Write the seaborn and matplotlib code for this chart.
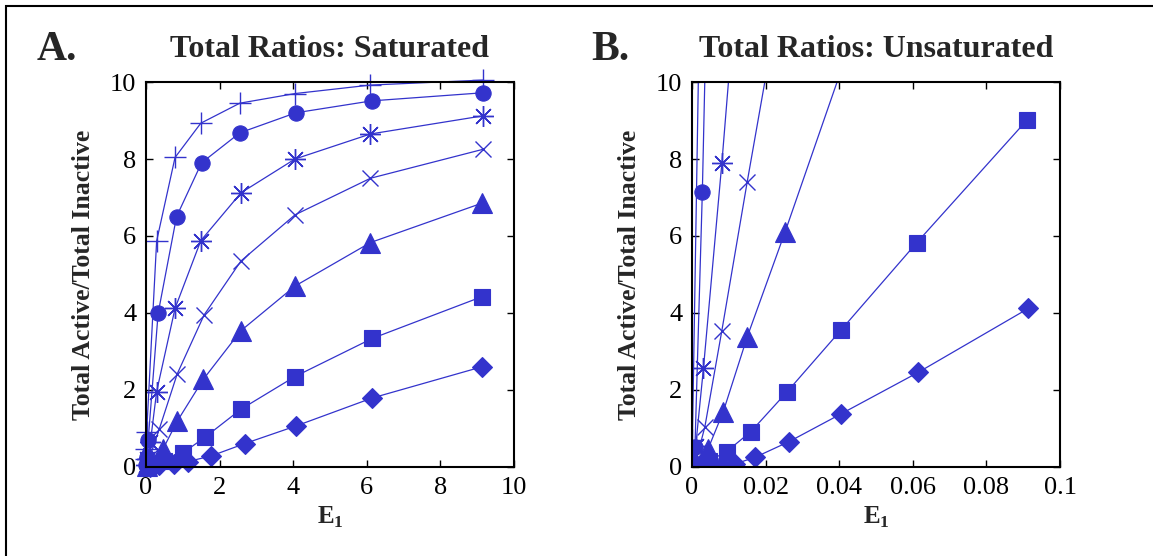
import matplotlib
matplotlib.use('Agg')
import matplotlib.pyplot as plt
import seaborn as sns
from matplotlib.patches import Rectangle

sns.set_theme(style='white')
plt.rcParams['font.family'] = ['Liberation Serif', 'DejaVu Serif']
plt.rcParams['mathtext.fontset'] = 'custom'
plt.rcParams['mathtext.rm'] = 'Liberation Serif'
plt.rcParams['mathtext.bf'] = 'Liberation Serif:bold'

# ---------------- data ----------------
series = ['plus', 'circle', 'asterisk', 'cross', 'triangle', 'square', 'diamond']

# Panel A: saturated
sat_plus_x = [0.004, 0.01, 0.02, 0.29, 0.79, 1.49, 2.55, 4.05, 6.09, 9.15]
sat_plus_y = [0.20, 0.48, 0.92, 5.87, 8.04, 8.93, 9.45, 9.70, 9.92, 10.05]
sat_circle_x = [0.005, 0.02, 0.06, 0.33, 0.83, 1.51, 2.55, 4.07, 6.13, 9.15]
sat_circle_y = [0.05, 0.25, 0.70, 3.99, 6.50, 7.90, 8.68, 9.20, 9.51, 9.72]
sat_asterisk_x = [0.01, 0.04, 0.12, 0.29, 0.79, 1.49, 2.58, 4.05, 6.10, 9.15]
sat_asterisk_y = [0.05, 0.20, 0.65, 1.96, 4.12, 5.88, 7.12, 8.00, 8.65, 9.12]
sat_cross_x = [0.02, 0.10, 0.36, 0.85, 1.58, 2.58, 4.05, 6.10, 9.15]
sat_cross_y = [0.05, 0.25, 0.98, 2.42, 3.95, 5.35, 6.55, 7.50, 8.25]
sat_triangle_x = [0.03, 0.15, 0.47, 0.85, 1.56, 2.58, 4.05, 6.10, 9.12]
sat_triangle_y = [0.03, 0.12, 0.48, 1.19, 2.28, 3.54, 4.70, 5.83, 6.85]
sat_square_x = [0.05, 0.20, 0.50, 1.01, 1.60, 2.58, 4.05, 6.15, 9.12]
sat_square_y = [0.01, 0.05, 0.15, 0.37, 0.77, 1.50, 2.35, 3.34, 4.42]
sat_diamond_x = [0.10, 0.35, 0.75, 1.14, 1.78, 2.69, 4.09, 6.14, 9.12]
sat_diamond_y = [0.01, 0.04, 0.08, 0.14, 0.29, 0.61, 1.07, 1.79, 2.60]

# Panel B: unsaturated
uns_plus_x = [0.00003, 0.0001, 0.0030]
uns_plus_y = [0.20, 0.70, 17.5]
uns_circle_x = [0.0002, 0.0008, 0.0028, 0.0081]
uns_circle_y = [0.10, 0.53, 7.14, 30.0]
uns_asterisk_x = [0.0003, 0.0010, 0.0031, 0.0081, 0.0150]
uns_asterisk_y = [0.05, 0.55, 2.56, 7.89, 16.0]
uns_cross_x = [0.0003, 0.0012, 0.0035, 0.0081, 0.0150, 0.0253]
uns_cross_y = [0.02, 0.20, 1.05, 3.54, 7.41, 13.0]
uns_triangle_x = [0.0002, 0.0012, 0.0044, 0.0085, 0.0150, 0.0253, 0.0405]
uns_triangle_y = [0.01, 0.10, 0.48, 1.44, 3.38, 6.11, 10.3]
uns_square_x = [0.0005, 0.0020, 0.0045, 0.0094, 0.0160, 0.0259, 0.0405, 0.0611, 0.0910]
uns_square_y = [0.01, 0.04, 0.15, 0.40, 0.92, 1.96, 3.56, 5.83, 9.01]
uns_diamond_x = [0.0010, 0.0040, 0.0081, 0.0117, 0.0171, 0.0264, 0.0405, 0.0615, 0.0914]
uns_diamond_y = [0.00, 0.01, 0.03, 0.08, 0.25, 0.66, 1.38, 2.46, 4.12]

sat_ticks = [0, 2, 4, 6, 8, 10]
sat_ticklabels = ['0', '2', '4', '6', '8', '10']
uns_xticks = [0, 0.02, 0.04, 0.06, 0.08, 0.1]
uns_xticklabels = ['0', '0.02', '0.04', '0.06', '0.08', '0.1']
y_ticks = [0, 2, 4, 6, 8, 10]
y_ticklabels = ['0', '2', '4', '6', '8', '10']

titles = ['Total Ratios: Saturated', 'Total Ratios: Unsaturated']
panel_letters = ['A.', 'B.']
ylabel = 'Total Active/Total Inactive'
xlabel = r'$\mathbf{E}_\mathbf{1}$'

# ---------------- styles ----------------
blue = '#3333cc'
mstyle = {
    'plus': dict(marker='+', markersize=16, markeredgewidth=1.0),
    'circle': dict(marker='o', markersize=11, markeredgewidth=0.8),
    'asterisk': dict(marker=(8, 2, 0), markersize=15, markeredgewidth=1.0),
    'cross': dict(marker='x', markersize=12, markeredgewidth=1.0),
    'triangle': dict(marker='^', markersize=14.5, markeredgewidth=0.8),
    'square': dict(marker='s', markersize=12, markeredgewidth=0.8),
    'diamond': dict(marker='D', markersize=10.5, markeredgewidth=0.8),
}

sat = {
    'plus': (sat_plus_x, sat_plus_y), 'circle': (sat_circle_x, sat_circle_y),
    'asterisk': (sat_asterisk_x, sat_asterisk_y), 'cross': (sat_cross_x, sat_cross_y),
    'triangle': (sat_triangle_x, sat_triangle_y), 'square': (sat_square_x, sat_square_y),
    'diamond': (sat_diamond_x, sat_diamond_y),
}
uns = {
    'plus': (uns_plus_x, uns_plus_y), 'circle': (uns_circle_x, uns_circle_y),
    'asterisk': (uns_asterisk_x, uns_asterisk_y), 'cross': (uns_cross_x, uns_cross_y),
    'triangle': (uns_triangle_x, uns_triangle_y), 'square': (uns_square_x, uns_square_y),
    'diamond': (uns_diamond_x, uns_diamond_y),
}

fig = plt.figure(figsize=(11.53, 5.56), dpi=100)
axA = fig.add_axes([0.1266, 0.1601, 0.3192, 0.6924])
axB = fig.add_axes([0.6002, 0.1601, 0.3192, 0.6924])


def draw(ax, data, clip):
    for name in series:
        xs, ys = data[name]
        sns.lineplot(x=xs, y=ys, ax=ax, sort=False, estimator=None, color=blue,
                     linewidth=0.9, markeredgecolor=blue, markerfacecolor=blue,
                     clip_on=clip, legend=False, **mstyle[name])


draw(axA, sat, False)
draw(axB, uns, True)

for ax, xt, xtl, title in [(axA, sat_ticks, sat_ticklabels, titles[0]),
                            (axB, uns_xticks, uns_xticklabels, titles[1])]:
    ax.set_xlim(xt[0], xt[-1])
    ax.set_ylim(0, 10)
    ax.set_xticks(xt)
    ax.set_xticklabels(xtl)
    ax.set_yticks(y_ticks)
    ax.set_yticklabels(y_ticklabels)
    ax.tick_params(direction='in', length=5, width=1, top=True, right=True,
                   bottom=True, left=True, labelsize=19, pad=7, colors='black')
    for s in ax.spines.values():
        s.set_visible(True)
        s.set_color('black')
        s.set_linewidth(1.5)
    ax.set_facecolor('white')
    ax.set_title(title, fontsize=23, fontweight='bold', pad=18)
    ax.set_ylabel(ylabel, fontsize=18.5, fontweight='bold')
    ax.yaxis.set_label_coords(-0.138, 0.5)
    ax.set_xlabel(xlabel, fontsize=18)
    ax.xaxis.set_label_coords(0.5, -0.098)

fig.text(37 / 1153, 1 - 60 / 556, panel_letters[0], fontsize=30, fontweight='bold', va='baseline')
fig.text(591 / 1153, 1 - 60 / 556, panel_letters[1], fontsize=30, fontweight='bold', va='baseline')

fig.patches.append(Rectangle((6 / 1153, -0.05), 1.1, 1 - 6 / 556 + 0.05,
                             transform=fig.transFigure, fill=False, edgecolor='black',
                             linewidth=1.5))

fig.savefig('out.png', dpi=100, facecolor='white')
